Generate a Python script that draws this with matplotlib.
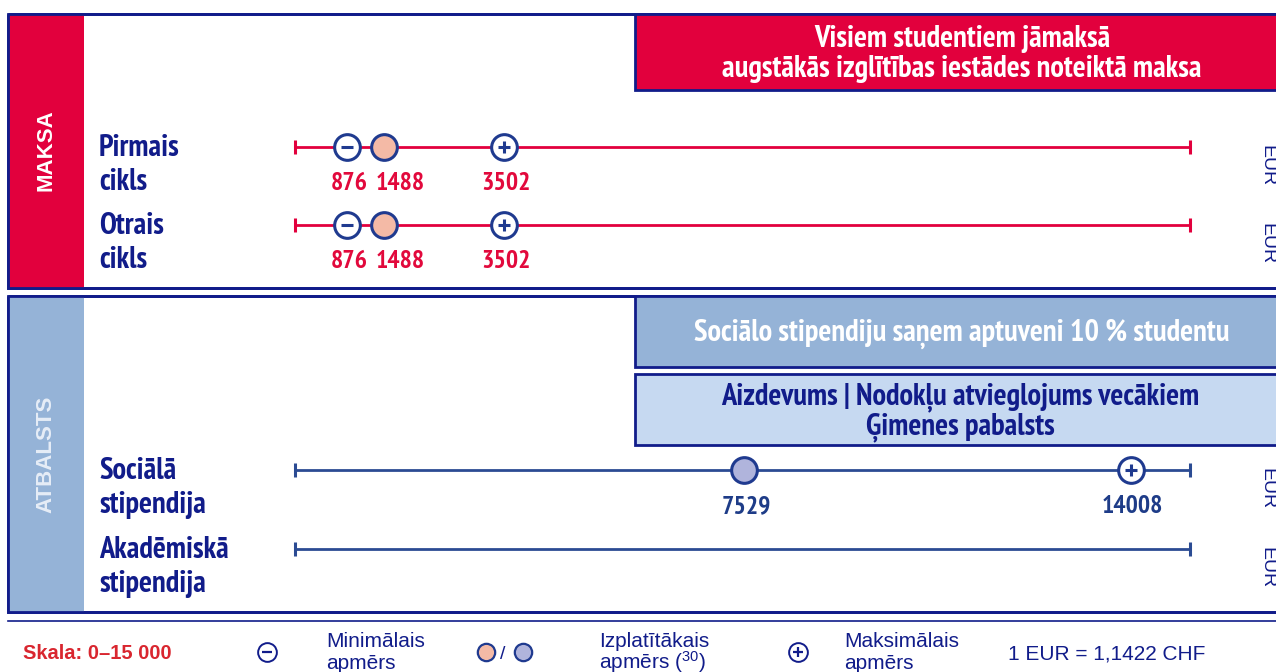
import matplotlib
matplotlib.use('Agg')
import matplotlib.pyplot as plt
from matplotlib import font_manager as fm
from matplotlib.patches import Rectangle


def pick_font(candidates, fallback='DejaVu Sans'):
    weights = {}
    for f in fm.fontManager.ttflist:
        w = f.weight if isinstance(f.weight, int) else fm.weight_dict.get(f.weight, 400)
        weights.setdefault(f.name, set()).add(w)
    for c in candidates:
        if c in weights and max(weights[c]) >= 600:
            return c
    return fallback


NARROW_NAME = pick_font(['Liberation Sans Narrow', 'Arial Narrow', 'Archivo Narrow',
                         'PT Sans Narrow', 'Roboto Condensed', 'Pragati Narrow',
                         'Fira Sans Condensed', 'Asap Condensed', 'IBM Plex Sans Condensed'])
ARIAL_NAME = pick_font(['Liberation Sans', 'Arimo', 'Arial'])
NARROW = [NARROW_NAME, 'DejaVu Sans']
ARIAL = [ARIAL_NAME, 'DejaVu Sans']

plt.rcParams['mathtext.fontset'] = 'custom'
plt.rcParams['mathtext.rm'] = ARIAL_NAME

# data
rows_top = ['Pirmais', 'Otrais']
rows_top_2 = ['cikls', 'cikls']
rows_bot = ['Sociālā', 'Akadēmiskā']
rows_bot_2 = ['stipendija', 'stipendija']
min_top = [876, 876]
common_top = [1488, 1488]
max_top = [3502, 3502]
min_bot = [None, None]
common_bot = [7529, None]
max_bot = [14008, None]
scale_max = 15000
currency = 'EUR'

# colours
NAVY = '#111c8a'
RED = '#e2003d'
RED_TXT = '#e2093c'
BLUE_LINE = '#2b4b93'
BLUE_TXT = '#1e3c88'
STRIP_BLUE = '#95b3d7'
LIGHT_BLUE = '#c6d9f1'
SALMON = '#f4baa6'
LILAC = '#b0b4dc'
MARK_EDGE = '#1f3a8f'
BIG = 22

fig = plt.figure(figsize=(12.76, 6.72), dpi=100)
bg = fig.add_axes([0, 0, 1, 1])
bg.set_xlim(0, 1276)
bg.set_ylim(672, 0)
bg.axis('off')

# panels
bg.add_patch(Rectangle((8, 14), 1300, 274, fc='white', ec=NAVY, lw=2, zorder=1))
bg.add_patch(Rectangle((8, 14), 76, 274, fc=RED, ec='none', zorder=2))
bg.add_patch(Rectangle((8, 14), 1300, 274, fc='none', ec=NAVY, lw=2, zorder=3))
bg.add_patch(Rectangle((635, 14), 700, 76, fc=RED, ec=NAVY, lw=2, zorder=3))

bg.add_patch(Rectangle((8, 296), 1300, 316, fc='white', ec=NAVY, lw=2, zorder=1))
bg.add_patch(Rectangle((8, 296), 76, 316, fc=STRIP_BLUE, ec='none', zorder=2))
bg.add_patch(Rectangle((8, 296), 1300, 316, fc='none', ec=NAVY, lw=2, zorder=3))
bg.add_patch(Rectangle((635, 296), 700, 71, fc=STRIP_BLUE, ec=NAVY, lw=2, zorder=3))
bg.add_patch(Rectangle((635, 374), 700, 71, fc=LIGHT_BLUE, ec=NAVY, lw=2, zorder=3))
bg.plot([8, 1276], [621, 621], color=NAVY, lw=1.2)

bg.text(46, 150, 'MAKSA', rotation=90, color='white', fontsize=16, weight='bold',
        family=ARIAL, ha='center', va='center', zorder=4)
bg.text(46, 454, 'ATBALSTS', rotation=90, color='#e6edf7', fontsize=16, weight='bold',
        family=ARIAL, ha='center', va='center', zorder=4)

hdr = dict(fontsize=BIG, weight='bold', family=NARROW, ha='center', va='baseline', zorder=4)
bg.text(962, 47, 'Visiem studentiem jāmaksā', color='white', **hdr)
bg.text(962, 77, 'augstākās izglītības iestādes noteiktā maksa', color='white', **hdr)
bg.text(962, 341, 'Sociālo stipendiju saņem aptuveni 10 % studentu', color='white', **hdr)
bg.text(960, 404, 'Aizdevums | Nodokļu atvieglojums vecākiem', color=NAVY, **hdr)
bg.text(960, 434, 'Ģimenes pabalsts', color=NAVY, **hdr)

# scale axes: 0..scale_max mapped between the row end caps
ax = fig.add_axes([295 / 1276, 0, 895 / 1276, 1])
ax.set_xlim(0, scale_max)
ax.set_ylim(672, 0)
ax.axis('off')
px_per_unit = 895 / scale_max


def draw_row(y, name1, name2, vmin, vcommon, vmax, lcol, tcol, fill):
    bg.text(99, y + 9, name1, color=NAVY, fontsize=BIG, weight='bold', family=NARROW,
            va='baseline', zorder=4)
    bg.text(99, y + 43, name2, color=NAVY, fontsize=BIG, weight='bold', family=NARROW,
            va='baseline', zorder=4)
    ax.plot([0, scale_max], [y, y], color=lcol, lw=2, marker='|', ms=10, mew=2.2,
            clip_on=False, zorder=4)
    mk = dict(ms=18.5, mew=2.2, mec=MARK_EDGE, clip_on=False, zorder=5)
    lab = dict(color=tcol, fontsize=18.5, weight='bold', family=NARROW, ha='center',
               va='baseline', textcoords='offset pixels', zorder=6)
    if vmin is not None:
        ax.plot(vmin, y, 'o', mfc='white', **mk)
        ax.plot(vmin, y, '_', ms=8.5, mew=2.2, mec=MARK_EDGE, clip_on=False, zorder=6)
        ax.annotate(str(vmin), (vmin, y + 43), xytext=(2, 0), **lab)
    if vcommon is not None:
        ax.plot(vcommon, y, 'o', mfc=fill, **mk)
        nudge = 2
        if vmin is not None:
            nudge = max(2, 53 - (vcommon - vmin) * px_per_unit)
        ax.annotate(str(vcommon), (vcommon, y + 43), xytext=(nudge, 0), **lab)
    if vmax is not None:
        ax.plot(vmax, y, 'o', mfc='white', **mk)
        ax.plot(vmax, y, '+', ms=9, mew=2.2, mec=MARK_EDGE, clip_on=False, zorder=6)
        ax.annotate(str(vmax), (vmax, y + 43), xytext=(2, 0), **lab)
    bg.text(1258, y - 2, currency, rotation=270, color=NAVY, fontsize=14, family=ARIAL,
            ha='left', va='top', zorder=4)


for i, y in enumerate([147, 225]):
    draw_row(y, rows_top[i], rows_top_2[i], min_top[i], common_top[i], max_top[i],
             RED, RED_TXT, SALMON)
for i, y in enumerate([470, 549]):
    draw_row(y, rows_bot[i], rows_bot_2[i], min_bot[i], common_bot[i], max_bot[i],
             BLUE_LINE, BLUE_TXT, LILAC)

# legend
bg.text(23, 659, 'Skala: 0–15 000', color='#d9262f', fontsize=14.5, weight='bold',
        family=ARIAL, va='baseline')
bg.plot(267, 652, 'o', ms=13.5, mfc='white', mec=NAVY, mew=1.4)
bg.plot(267, 652, '_', ms=7, mec=NAVY, mew=1.6)
bg.plot(486, 652, 'o', ms=12.5, mfc=SALMON, mec=MARK_EDGE, mew=1.6)
bg.text(503, 659, '/', color=NAVY, fontsize=14, family=ARIAL, ha='center', va='baseline')
bg.plot(523, 652, 'o', ms=12.5, mfc=LILAC, mec=MARK_EDGE, mew=1.6)
bg.plot(798, 652, 'o', ms=13.5, mfc='white', mec=NAVY, mew=1.4)
bg.plot(798, 652, '+', ms=7.5, mec=NAVY, mew=1.6)

leg = dict(color=NAVY, fontsize=15, family=ARIAL, va='baseline')
bg.text(326, 647, 'Minimālais', **leg)
bg.text(326, 669, 'apmērs', **leg)
bg.text(599, 647, 'Izplatītākais', **leg)
bg.text(599, 669, r'apmērs ($\mathregular{^{30}}$)', **leg)
bg.text(844, 647, 'Maksimālais', **leg)
bg.text(844, 669, 'apmērs', **leg)
bg.text(1008, 659, '1 EUR = 1,1422 CHF', **leg)

fig.savefig('out.png', dpi=100)
